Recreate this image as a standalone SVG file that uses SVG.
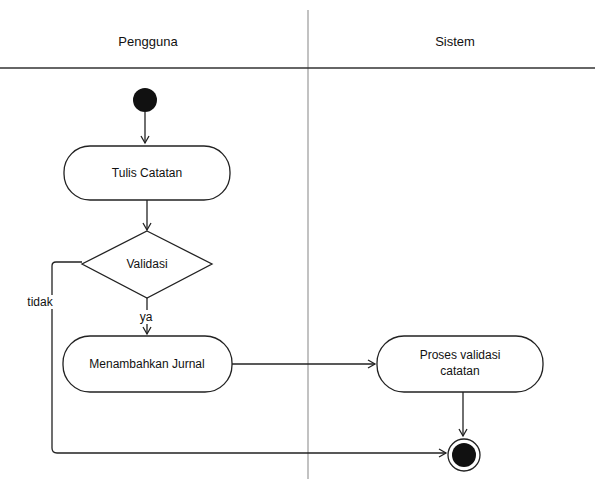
<svg xmlns="http://www.w3.org/2000/svg" width="595" height="479" viewBox="0 0 595 479">
<style>
.t{font-family:"Liberation Sans",Arial,sans-serif;font-size:12px;fill:#111;text-anchor:middle}
.h{font-size:13px}
.node{fill:#fff;stroke:#222;stroke-width:1.3}
.c{fill:none;stroke:#222;stroke-width:1.3}
</style>
<defs>
<marker id="a" markerWidth="10" markerHeight="10" refX="8" refY="5" orient="auto" markerUnits="userSpaceOnUse">
<path d="M1,1 L8,5 L1,9" fill="none" stroke="#222" stroke-width="1.3"/>
</marker>
</defs>
<rect width="595" height="479" fill="#fff"/>
<g id="lanes">
<line x1="308" y1="10" x2="308" y2="479" stroke="#999" stroke-width="1.2"/>
<line x1="0" y1="68" x2="595" y2="68" stroke="#333" stroke-width="1.6"/>
<text class="t h" x="148" y="46">Pengguna</text>
<text class="t h" x="455" y="46">Sistem</text>
</g>
<g id="connectors">
<path class="c" d="M145,112 V143" marker-end="url(#a)"/>
<path class="c" d="M147,200 V230" marker-end="url(#a)"/>
<path class="c" d="M147,298 V334" marker-end="url(#a)"/>
<path class="c" d="M232,364 H375" stroke-width="2.2" marker-end="url(#a)"/>
<path class="c" d="M82,262 H56 Q52,262 52,266 V448 Q52,453 57,453 H446" marker-end="url(#a)"/>
<path class="c" d="M463,392 V436" stroke="#999" marker-end="url(#a)"/>
<rect x="128" y="310" width="36" height="14" fill="#fff"/>
<text class="t" x="146" y="321">ya</text>
<rect x="22" y="295" width="38" height="14" fill="#fff"/>
<text class="t" x="40" y="306">tidak</text>
</g>
<g id="start"><circle cx="145" cy="100" r="12" fill="#111"/></g>
<g id="tulis">
<rect class="node" x="64" y="146" width="166" height="54" rx="26"/>
<text class="t" x="147" y="177">Tulis Catatan</text>
</g>
<g id="decision">
<polygon class="node" points="147,231 212,264 147,298 82,264"/>
<text class="t" x="147" y="268">Validasi</text>
</g>
<g id="menambah">
<rect class="node" x="63" y="336" width="169" height="56" rx="27"/>
<text class="t" x="147" y="368">Menambahkan Jurnal</text>
</g>
<g id="proses">
<rect class="node" x="377" y="336" width="166" height="56" rx="27"/>
<text class="t" x="460" y="359">Proses validasi</text>
<text class="t" x="460" y="375">catatan</text>
</g>
<g id="end">
<circle cx="464" cy="455" r="16" fill="#fff" stroke="#222" stroke-width="1.3"/>
<circle cx="464" cy="455" r="12" fill="#111"/>
</g>
</svg>
